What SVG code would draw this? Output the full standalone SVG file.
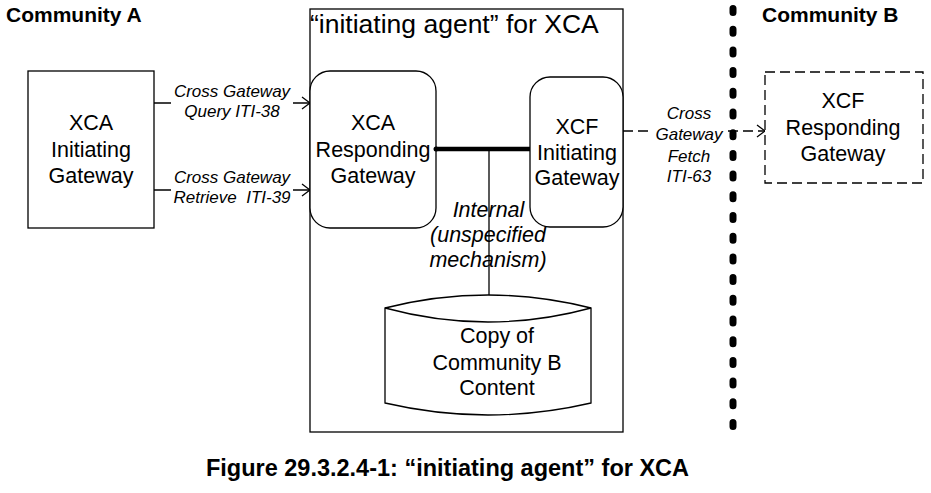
<svg xmlns="http://www.w3.org/2000/svg" width="931" height="493" viewBox="0 0 931 493">
<defs>
<style>
text{font-family:"Liberation Sans",Arial,sans-serif;fill:#000}
.b{font-weight:bold;font-size:21px}
.n{font-size:21.5px;text-anchor:middle}
.i{font-style:italic;font-size:17px;text-anchor:middle}
.ii{font-style:italic;font-size:21.5px;text-anchor:middle}
.box{fill:#fff;stroke:#000;stroke-width:1.3}
.ln{stroke:#000;stroke-width:1.3;fill:none}
</style>
<marker id="ah" viewBox="0 0 10 14" refX="9" refY="7" markerWidth="10" markerHeight="14" markerUnits="userSpaceOnUse" orient="auto">
<path d="M1,1 L9,7 L1,13" fill="none" stroke="#000" stroke-width="1.3"/>
</marker>
</defs>
<rect width="931" height="493" fill="#fff"/>
<text class="b" x="6" y="22">Community A</text>
<text class="b" x="762" y="22">Community B</text>
<g id="agent">
<rect class="box" x="310" y="9" width="313" height="423"/>
<text x="310" y="33" style="font-size:26.5px">“initiating agent” for XCA</text>
</g>
<g id="connectors">
<line class="ln" x1="154" y1="103" x2="310" y2="103" marker-end="url(#ah)"/>
<line class="ln" x1="154" y1="190" x2="310" y2="190" marker-end="url(#ah)"/>
<line class="ln" x1="623" y1="131" x2="765" y2="131" stroke-dasharray="10 5" marker-end="url(#ah)"/>
<line x1="436" y1="149" x2="530" y2="149" stroke="#000" stroke-width="4.5"/>
<line class="ln" x1="489" y1="149" x2="489" y2="295"/>
<rect x="171" y="84" width="122" height="38" fill="#fff"/>
<rect x="171" y="170" width="122" height="38" fill="#fff"/>
<rect x="652" y="106" width="72" height="14" fill="#fff"/>
<rect x="652" y="124" width="72" height="18" fill="#fff"/>
<text class="i" x="232" y="97">Cross Gateway</text>
<text class="i" x="232" y="117">Query ITI-38</text>
<text class="i" x="232" y="183">Cross Gateway</text>
<text class="i" x="232" y="203" xml:space="preserve">Retrieve  ITI-39</text>
<text class="i" x="689" y="119">Cross</text>
<text class="i" x="689" y="140">Gateway</text>
<text class="i" x="689" y="162">Fetch</text>
<text class="i" x="689" y="182">ITI-63</text>
<text class="ii" x="488.5" y="217">Internal</text>
<text class="ii" x="488" y="242">(unspecified</text>
<text class="ii" x="488" y="267">mechanism)</text>
</g>
<g id="xca-initiating">
<rect class="box" x="28" y="71" width="126" height="157"/>
<text class="n" x="91" y="130">XCA</text>
<text class="n" x="91" y="157">Initiating</text>
<text class="n" x="91" y="183">Gateway</text>
</g>
<g id="xca-responding">
<rect class="box" x="310" y="71" width="126" height="157" rx="20" ry="20"/>
<text class="n" x="373" y="130">XCA</text>
<text class="n" x="373" y="157">Responding</text>
<text class="n" x="373" y="183">Gateway</text>
</g>
<circle cx="436" cy="149" r="2.5" fill="#000"/>
<g id="xcf-initiating">
<rect class="box" x="530" y="77" width="93" height="150" rx="20" ry="20"/>
<text class="n" x="577" y="134">XCF</text>
<text class="n" x="577" y="160">Initiating</text>
<text class="n" x="577" y="185">Gateway</text>
</g>
<g id="store">
<path class="box" d="M385,308 Q488,282 591,308 L591,403 Q488,427 385,403 Z"/>
<path class="ln" d="M385,308 Q488,336 591,308"/>
<text class="n" x="497" y="343">Copy of</text>
<text class="n" x="497" y="370">Community B</text>
<text class="n" x="497" y="395">Content</text>
</g>
<g id="xcf-responding">
<rect x="765" y="72" width="158" height="111" fill="#fff" stroke="#000" stroke-width="1.3" stroke-dasharray="10 5"/>
<text class="n" x="843" y="108">XCF</text>
<text class="n" x="843" y="135">Responding</text>
<text class="n" x="843" y="161">Gateway</text>
</g>
<g id="boundary">
<line x1="733" y1="8.5" x2="733" y2="440" stroke="#000" stroke-width="7" stroke-linecap="round" stroke-dasharray="4 16.7"/>
</g>
<text x="447.5" y="476" style="font-weight:bold;font-size:23.5px;text-anchor:middle">Figure 29.3.2.4-1: “initiating agent” for XCA</text>
</svg>
